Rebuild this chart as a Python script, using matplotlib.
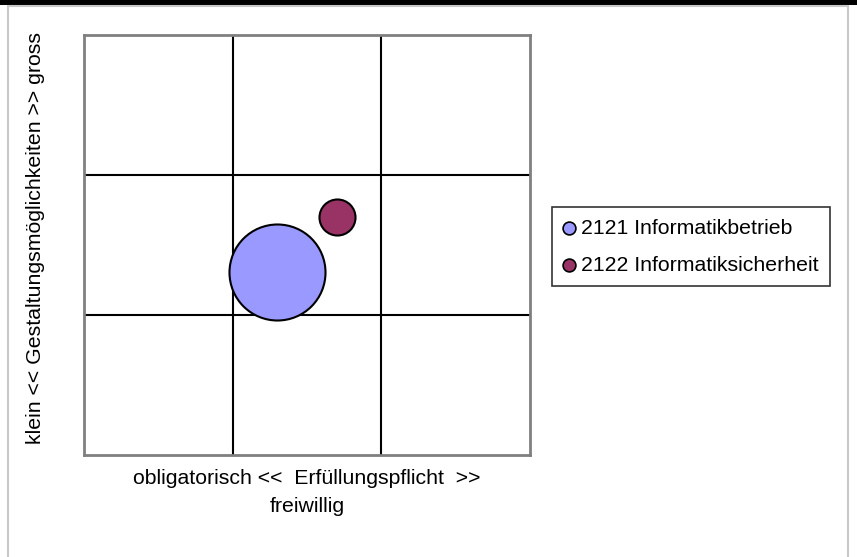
import matplotlib
matplotlib.use("Agg")
import matplotlib.pyplot as plt
from matplotlib.patches import Rectangle

plt.rcParams['font.family'] = ['Liberation Sans', 'DejaVu Sans']

series = ["2121 Informatikbetrieb", "2122 Informatiksicherheit"]
x_vals = [1.30, 1.70]
y_vals = [1.31, 1.70]
bubble_sizes = [7.1, 1.0]
colors = ["#9999FF", "#993366"]

x_label_1 = "obligatorisch <<  Erfüllungspflicht  >>"
x_label_2 = "freiwillig"
y_label = "klein << Gestaltungsmöglichkeiten >> gross"

W, H = 857, 557
FS = 15.3
fig = plt.figure(figsize=(W / 100, H / 100), dpi=100)
fig.patch.set_facecolor("white")

# outer decoration: black band at top, grey frame
fig.patches.append(Rectangle((0, 1 - 4.5 / H), 1, 4.5 / H, transform=fig.transFigure,
                             facecolor="black", edgecolor="none", zorder=0))
fig.patches.append(Rectangle((8 / W, -0.05), (848 - 8) / W, 1.05 - 5.5 / H,
                             transform=fig.transFigure, facecolor="none",
                             edgecolor="#c8c8c8", linewidth=1.5, zorder=0))

ax = fig.add_axes([84 / W, 1 - 455 / H, (530 - 84) / W, (455 - 35) / H])
ax.set_xlim(0, 3)
ax.set_ylim(0, 3)
ax.set_xticks([1, 2])
ax.set_yticks([1, 2])
ax.tick_params(length=0, labelbottom=False, labelleft=False)
ax.grid(True, color="black", linewidth=1.5)
ax.set_axisbelow(True)
for s in ax.spines.values():
    s.set_color("#808080")
    s.set_linewidth(2)

scale = 4780 / 7.1
for xv, yv, sz, c, lab in zip(x_vals, y_vals, bubble_sizes, colors, series):
    ax.scatter([xv], [yv], s=sz * scale, color=c, edgecolor="black",
               linewidth=1.5, zorder=3, label=lab)

leg = ax.legend(loc="upper left", bbox_to_anchor=(552 / W, 1 - 207 / H),
                bbox_transform=fig.transFigure, frameon=True, fancybox=False,
                edgecolor="black", fontsize=FS, handlelength=0.5,
                handletextpad=0.3, borderpad=0.55, labelspacing=0.85,
                borderaxespad=0, markerscale=1)
leg.get_frame().set_linewidth(1.2)
for h in leg.legend_handles:
    h.set_sizes([85])
    h.set_linewidth(1.2)

fig.text(307 / W, 1 - 478 / H, x_label_1, ha="center", va="center", fontsize=FS)
fig.text(307 / W, 1 - 507 / H, x_label_2, ha="center", va="center", fontsize=FS)
fig.text(36 / W, 1 - 238 / H, y_label, ha="center", va="center",
         rotation=90, fontsize=FS)

fig.savefig("out.png", dpi=100)
